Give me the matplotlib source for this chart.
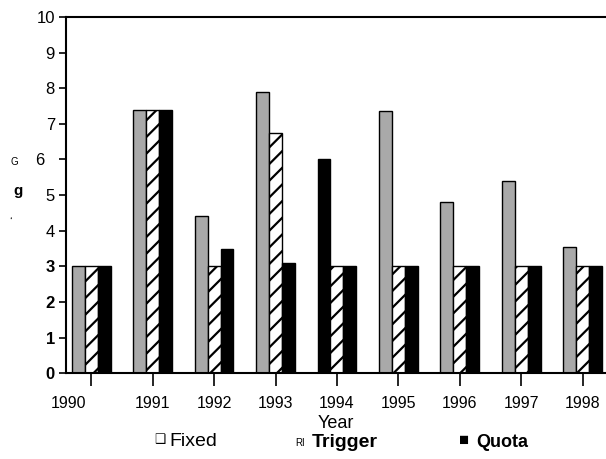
import matplotlib.pyplot as plt
import matplotlib.transforms as mtransforms
import numpy as np

years = ['1990', '1991', '1992', '1993', '1994', '1995', '1996', '1997', '1998']
fixed = [3.0, 7.4, 4.4, 7.9, 6.0, 7.35, 4.8, 5.4, 3.55]
trigger = [3.0, 7.4, 3.0, 6.75, 3.0, 3.0, 3.0, 3.0, 3.0]
quota = [3.0, 7.4, 3.5, 3.1, 3.0, 3.0, 3.0, 3.0, 3.0]
yticks = [0, 1, 2, 3, 4, 5, 6, 7, 8, 9, 10]

plt.rcParams['font.family'] = ['Liberation Sans', 'DejaVu Sans']
plt.rcParams['hatch.linewidth'] = 1.6

fig = plt.figure(figsize=(6.06, 4.59), dpi=100)
ax = fig.add_axes([0.109, 0.187, 0.891, 0.776])

x = np.arange(len(years))
w = 0.21
fb = ax.bar(x - w, fixed, w, color='#a9a9a9', edgecolor='black', linewidth=1.0)
ax.bar(x, trigger, w, color='white', edgecolor='black', hatch='//', linewidth=1.0)
ax.bar(x + w, quota, w, color='black', edgecolor='black', linewidth=1.0)
# 1994 fixed bar comes out dark in the scan
fb[4].set_facecolor('black')

ax.set_xlim(-0.41, 8.38)
ax.set_ylim(0, 10)
ax.set_xticks(x)
ax.set_xticklabels(years, fontsize=11.5)
ax.set_yticks(yticks)
ax.set_yticklabels([str(v) for v in yticks], fontsize=12)
for i, t in enumerate(ax.get_yticklabels()):
    if i <= 3:
        t.set_fontweight('bold')
ax.tick_params(axis='x', direction='out', length=9.5, width=1.2, pad=7)
ax.tick_params(axis='y', direction='out', length=5, width=1.2, pad=3)

# scan offsets: 1990 label sits at the axis corner, "6" sits further left
lab = ax.get_xticklabels()[0]
lab.set_transform(lab.get_transform() + mtransforms.ScaledTranslation(-0.23, 0, fig.dpi_scale_trans))
lab = ax.get_yticklabels()[6]
lab.set_transform(lab.get_transform() + mtransforms.ScaledTranslation(-0.11, 0, fig.dpi_scale_trans))

ax.spines['right'].set_visible(False)
for s in ['left', 'top', 'bottom']:
    ax.spines[s].set_linewidth(1.5)

ax.set_xlabel('Year', fontsize=13, labelpad=3)

fig.text(0.017, 0.64, 'G', fontsize=7)
fig.text(0.022, 0.575, 'g', fontsize=11, fontweight='bold')
fig.text(0.015, 0.51, '\u2018', fontsize=8)

# legend, as it comes out of the scan
fig.text(0.255, 0.034, '\u2751', fontsize=9)
fig.text(0.28, 0.028, 'Fixed', fontsize=14)
fig.text(0.487, 0.028, 'RI', fontsize=7)
fig.text(0.515, 0.026, 'Trigger', fontsize=14, fontweight='bold')
fig.text(0.757, 0.030, '\u25a0', fontsize=12)
fig.text(0.786, 0.026, 'Quota', fontsize=13, fontweight='bold')

fig.savefig('out.png', dpi=100)
